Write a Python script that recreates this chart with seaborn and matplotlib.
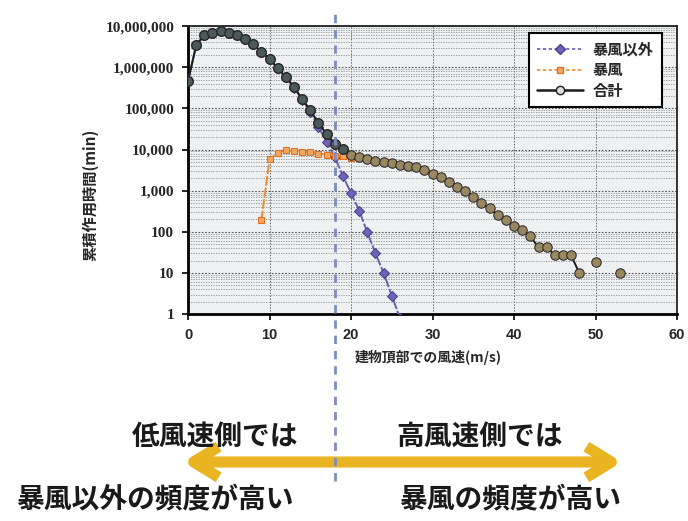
import numpy as np
import pandas as pd
import matplotlib
matplotlib.use("Agg")
import matplotlib.pyplot as plt
from matplotlib.lines import Line2D
from matplotlib.ticker import LogLocator, FuncFormatter, NullFormatter
import seaborn as sns

# ---------------- data ----------------
total_speed = list(range(0, 49)) + [50, 53]
total_vals = [460000, 3400000, 6000000, 6800000, 7500000, 6800000, 6000000, 4800000,
              3600000, 2300000, 1600000, 950000, 580000, 330000, 170000, 91000,
              44000, 24000, 14000, 10500, 7200, 6500, 5800, 5200, 4900, 4600,
              4200, 3900, 3700, 3100, 2500, 2100, 1600, 1200, 1000, 690, 490,
              370, 250, 190, 135, 110, 78, 42, 42, 27, 27, 27, 10, 18, 10]
total_segment = [0] * 49 + [1, 2]

nonstorm_speed = list(range(0, 27))
nonstorm_vals = [460000, 3400000, 6000000, 6800000, 7500000, 6800000, 6000000, 4800000,
                 3600000, 2300000, 1590000, 940000, 570000, 320000, 161000, 82000,
                 36000, 15000, 6500, 2300, 860, 330, 97, 30, 10, 2.8, 0.8]

storm_speed = list(range(9, 21))
storm_vals = [190, 5800, 8100, 9600, 9000, 8800, 8500, 8000, 7500, 7000, 6800, 6400]

labels = ["暴風以外", "暴風", "合計"]
y_ticks = [1, 10, 100, 1000, 10000, 100000, 1000000, 10000000]
x_ticks = [0, 10, 20, 30, 40, 50, 60]
boundary_speed = 18

df_total = pd.DataFrame({"speed": total_speed, "val": total_vals, "seg": total_segment})
df_non = pd.DataFrame({"speed": nonstorm_speed, "val": nonstorm_vals})
df_storm = pd.DataFrame({"speed": storm_speed, "val": storm_vals})

# ---------------- style ----------------
sns.set_theme(style="white")
plt.rcParams["font.family"] = ["Noto Sans CJK JP", "DejaVu Sans"]

fig = plt.figure(figsize=(6.88, 5.21), dpi=100)
ax = fig.add_axes([0.2733, 0.397, 0.7108, 0.553])
ax.set_facecolor("#eef0f1")

blue = "#6a5fb0"
orange = "#f08a30"

sns.lineplot(data=df_non, x="speed", y="val", ax=ax, color=blue, lw=1.4,
             marker="D", markersize=5.5, markerfacecolor="#6e63b8",
             markeredgecolor="#4a3f8a", linestyle=(0, (5, 1)), zorder=3)
sns.lineplot(data=df_storm, x="speed", y="val", ax=ax, color=orange, lw=1.4,
             marker="s", markersize=5, markerfacecolor="#f3a860",
             markeredgecolor="#e07020", linestyle=(0, (5, 1)), zorder=4)
sns.lineplot(data=df_total, x="speed", y="val", units="seg", estimator=None, ax=ax,
             color="#1a1a1a", lw=1.4, marker="o", markersize=6.8,
             markerfacecolor="#9a8760", markeredgecolor="#2a2a2a", zorder=5)
low = df_total[df_total["speed"] <= 19]
ax.plot(low["speed"], low["val"], "o", markersize=6.8, markerfacecolor="#4d5a5c",
        markeredgecolor="#2a2a2a", zorder=6)

ax.set_yscale("log")
ax.set_ylim(1, 10000000)
ax.set_xlim(0, 60)
ax.set_yticks(y_ticks)
ax.set_xticks(x_ticks)
ax.yaxis.set_major_formatter(FuncFormatter(lambda v, p: f"{v:,.0f}"))
ax.yaxis.set_minor_locator(LogLocator(base=10, subs=np.arange(2, 10)))
ax.yaxis.set_minor_formatter(NullFormatter())
ax.tick_params(axis="y", which="minor", length=0)
ax.tick_params(axis="both", which="major", length=4, width=1.2, color="black",
               direction="out", pad=6, left=True, bottom=True)
for lab in ax.get_yticklabels():
    lab.set_fontfamily("Liberation Serif")
    lab.set_fontweight("bold")
    lab.set_fontsize(11)
for lab in ax.get_xticklabels():
    lab.set_fontfamily("Liberation Sans")
    lab.set_fontweight("bold")
    lab.set_fontsize(10.5)

ax.grid(True, which="major", axis="y", color="#555555", linestyle=(0, (1.5, 1.5)), lw=0.8)
ax.grid(True, which="minor", axis="y", color="#8a9090", linestyle=(0, (1.5, 1.5)), lw=0.6)
ax.grid(True, which="major", axis="x", color="#666666", linestyle=(0, (1.5, 1.5)), lw=0.7)

for side in ["left", "bottom"]:
    ax.spines[side].set_color("black")
    ax.spines[side].set_linewidth(2.0)
for side in ["top", "right"]:
    ax.spines[side].set_color("#222222")
    ax.spines[side].set_linewidth(1.3)
    ax.spines[side].set_visible(True)

ax.set_xlabel("建物頂部での風速(m/s)", fontsize=10, fontweight="bold", va="center")
ax.xaxis.set_label_coords(0.49, -0.152)
ax.set_ylabel("累積作用時間(min)", fontsize=11, fontweight="bold", va="center")
ax.yaxis.set_label_coords(-0.2, 0.415)

handles = [
    Line2D([], [], color=blue, lw=1.2, ls=(0, (2, 1.5)), marker="D", markersize=5,
           markerfacecolor="#6e63b8", markeredgecolor="#4a3f8a"),
    Line2D([], [], color=orange, lw=1.2, ls=(0, (2, 1.5)), marker="s", markersize=5,
           markerfacecolor="#f3a860", markeredgecolor="#e07020"),
    Line2D([], [], color="#1a1a1a", lw=1.8, marker="o", markersize=6,
           markerfacecolor="#dddddd", markeredgecolor="#1a1a1a"),
]
leg = ax.legend(handles, labels, loc="upper right", bbox_to_anchor=(0.969, 0.976),
                frameon=True, fancybox=False, edgecolor="black", framealpha=1,
                prop={"family": ["Noto Sans CJK JP"], "weight": "bold", "size": 11},
                handlelength=3.0, borderpad=0.55, labelspacing=0.3,
                handletextpad=0.6, borderaxespad=0)
leg.get_frame().set_linewidth(1.5)
leg.set_zorder(10)

# vertical dashed boundary line
ax.axvline(boundary_speed, ymin=-0.58, ymax=1.06, clip_on=False, color="#7d8cc0",
           lw=2.0, ls=(0, (3, 2.5)), zorder=7)

# bottom annotations
arrow_y = 1 - 462 / 521
ax.annotate("", xy=(622 / 688, arrow_y), xytext=(183 / 688, arrow_y),
            xycoords="figure fraction", textcoords="figure fraction",
            arrowprops=dict(arrowstyle="<->, head_length=0.9, head_width=0.55",
                            mutation_scale=20, color="#e8b422", lw=8,
                            shrinkA=0, shrinkB=0, capstyle="butt"),
            annotation_clip=False)

txt_kw = dict(ha="center", va="center", fontsize=20, fontweight="bold", color="#1a1a1a")
fig.text(215 / 688, 1 - 437 / 521, "低風速側では", **txt_kw)
fig.text(480 / 688, 1 - 437 / 521, "高風速側では", **txt_kw)
fig.text(155 / 688, 1 - 500 / 521, "暴風以外の頻度が高い", **txt_kw)
fig.text(510 / 688, 1 - 500 / 521, "暴風の頻度が高い", **txt_kw)

fig.savefig("out.png", dpi=100, facecolor="white")
